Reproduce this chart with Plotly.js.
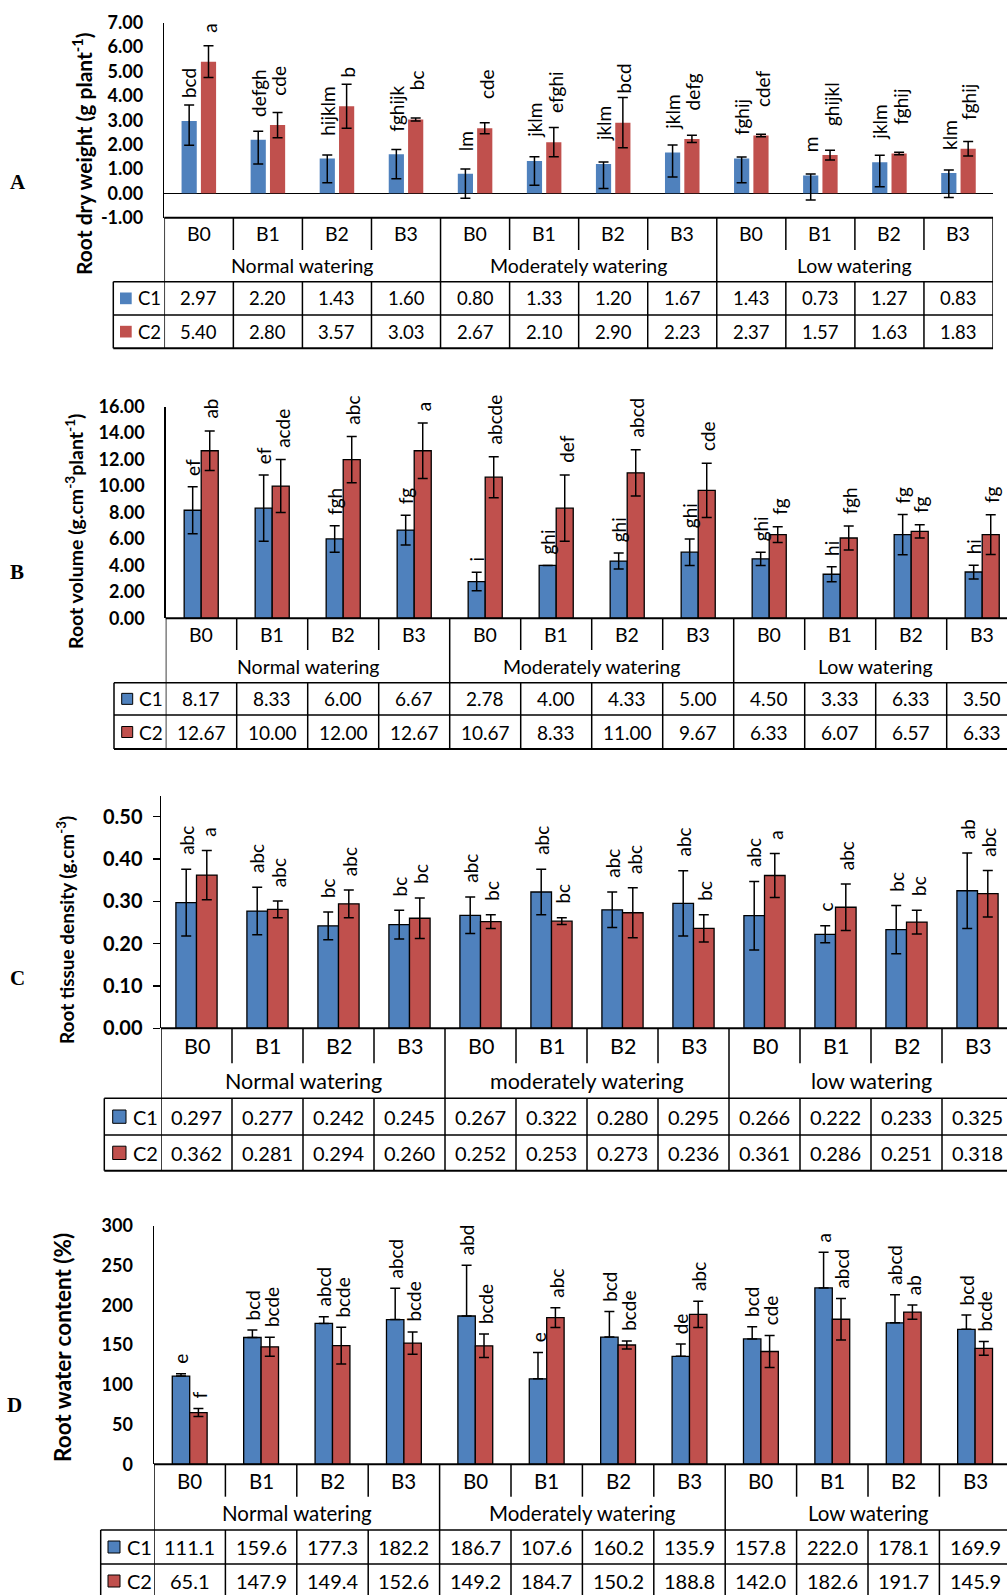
<!DOCTYPE html>
<html>
<head>
<meta charset="utf-8">
<script src="https://cdn.plot.ly/plotly-3.0.1.min.js"></script>
<style>
  html, body { margin: 0; padding: 0; overflow: hidden; background: #fff; }
  #chart { width: 1007px; height: 1595px; }
</style>
</head>
<body>
<div id="chart"></div>
<script>
// ---- categories ----
const treatments = ['B0', 'B1', 'B2', 'B3'];
const regimesUpper = ['Normal watering', 'Moderately watering', 'Low watering'];
const regimesLower = ['Normal watering', 'moderately watering', 'low watering'];
const seriesNames = ['C1', 'C2'];
const categoryLabels = [].concat(treatments, treatments, treatments);

// ---- A: root dry weight (g plant-1) ----
const dryC1 = [2.97, 2.20, 1.43, 1.60, 0.80, 1.33, 1.20, 1.67, 1.43, 0.73, 1.27, 0.83];
const dryC2 = [5.40, 2.80, 3.57, 3.03, 2.67, 2.10, 2.90, 2.23, 2.37, 1.57, 1.63, 1.83];
const dryC1ErrPlus = [0.65, 0.35, 0.14, 0.20, 0.20, 0.17, 0.08, 0.31, 0.06, 0.06, 0.29, 0.13];
const dryC1ErrMinus = [1.00, 1.00, 1.00, 1.00, 1.00, 1.00, 1.00, 1.00, 1.00, 1.00, 1.00, 1.00];
const dryC2Err = [0.65, 0.52, 0.90, 0.06, 0.23, 0.60, 1.03, 0.15, 0.05, 0.20, 0.05, 0.30];
const dryLetC1 = ['bcd', 'defgh', 'hijklm', 'fghijk', 'lm', 'jklm', 'jklm', 'jklm', 'fghij', 'm', 'jklm', 'klm'];
const dryLetC2 = ['a', 'cde', 'b', 'bc', 'cde', 'efghi', 'bcd', 'defg', 'cdef', 'ghijkl', 'fghij', 'fghij'];
const dryTickVals = [-1, 0, 1, 2, 3, 4, 5, 6, 7];
const dryTickText = ['-1.00', '0.00', '1.00', '2.00', '3.00', '4.00', '5.00', '6.00', '7.00'];

// ---- B: root volume ----
const volC1 = [8.17, 8.33, 6.00, 6.67, 2.78, 4.00, 4.33, 5.00, 4.50, 3.33, 6.33, 3.50];
const volC2 = [12.67, 10.00, 12.00, 12.67, 10.67, 8.33, 11.00, 9.67, 6.33, 6.07, 6.57, 6.33];
const volC1Err = [1.77, 2.50, 1.00, 1.13, 0.70, 0.00, 0.60, 1.00, 0.50, 0.57, 1.52, 0.52];
const volC2Err = [1.50, 2.00, 1.75, 2.10, 1.55, 2.50, 1.75, 2.05, 0.60, 0.90, 0.50, 1.50];
const volLetC1 = ['ef', 'ef', 'fgh', 'fg', 'i', 'ghi', 'ghi', 'ghi', 'ghi', 'hi', 'fg', 'hi'];
const volLetC2 = ['ab', 'acde', 'abc', 'a', 'abcde', 'def', 'abcd', 'cde', 'fg', 'fgh', 'fg', 'fg'];

// ---- C: root tissue density ----
const denC1 = [0.297, 0.277, 0.242, 0.245, 0.267, 0.322, 0.280, 0.295, 0.266, 0.222, 0.233, 0.325];
const denC2 = [0.362, 0.281, 0.294, 0.260, 0.252, 0.253, 0.273, 0.236, 0.361, 0.286, 0.251, 0.318];
const denC1Err = [0.079, 0.056, 0.033, 0.034, 0.043, 0.054, 0.042, 0.077, 0.081, 0.020, 0.057, 0.089];
const denC2Err = [0.058, 0.020, 0.033, 0.048, 0.016, 0.008, 0.059, 0.032, 0.052, 0.055, 0.028, 0.055];
const denLetC1 = ['abc', 'abc', 'bc', 'bc', 'abc', 'abc', 'abc', 'abc', 'abc', 'c', 'bc', 'ab'];
const denLetC2 = ['a', 'abc', 'abc', 'bc', 'bc', 'bc', 'abc', 'bc', 'a', 'abc', 'bc', 'abc'];

// ---- D: root water content (%) ----
const rwcC1 = [111.1, 159.6, 177.3, 182.2, 186.7, 107.6, 160.2, 135.9, 157.8, 222.0, 178.1, 169.9];
const rwcC2 = [65.1, 147.9, 149.4, 152.6, 149.2, 184.7, 150.2, 188.8, 142.0, 182.6, 191.7, 145.9];
const rwcC1ErrPlus = [3, 9.4, 8.5, 39.3, 64, 33.3, 32.3, 15.5, 15.4, 44.8, 35.4, 18];
const rwcC1ErrMinus = [0, 0, 0, 0, 0, 0, 0, 0, 0, 0, 0, 0];
const rwcC2Err = [5, 12, 23, 14, 14.7, 12.4, 5, 16.5, 20, 26, 9, 8.6];
const rwcLetC1 = ['e', 'bcd', 'abcd', 'abcd', 'abd', 'e', 'bcd', 'de', 'bcd', 'a', 'abcd', 'bcd'];
const rwcLetC2 = ['f', 'bcde', 'bcde', 'bcde', 'bcde', 'abc', 'bcde', 'abc', 'cde', 'abcd', 'ab', 'bcde'];

// ---- page geometry helpers (pixels -> paper fractions) ----
const W = 1007, H = 1595;
const py = y => 1 - y / H;
const pxp = x => x / W;
const COLORS = ['#4F81BD', '#C0504D'];
const FONT = 'Lato, "Open Sans", sans-serif';

const panels = [
  {
    letter: 'A', title: 'Root dry weight (g plant<sup>-1</sup>)', regimes: regimesUpper,
    values: [dryC1, dryC2], errPlus: [dryC1ErrPlus, dryC2Err], errMinus: [dryC1ErrMinus, dryC2Err],
    letters: [dryLetC1, dryLetC2], digits: 2,
    yRange: [-1, 7], tickvals: dryTickVals, ticktext: dryTickText, ticks: '', tickSize: 18,
    left: 164.3, catW: 69.06, top: 22.7, plotBottom: 217.7,
    rows: [217.7, 250, 281.7, 315, 348.3], legendLeft: 113.3,
    barW: 0.22, offs: [-0.25, 0.03], outline: 0, labelOnBar: true, labelShift: [21, 27],
    titleX: 82, titleY: 154, titleSize: 21, letterPos: [18, 182], square: [120, 131.7], legendText: 136,
    zeroline: true, headSize: 19.5, valueSize: 18.5
  },
  {
    letter: 'B', title: 'Root volume (g.cm<sup>-3</sup>plant<sup>-1</sup>)', regimes: regimesUpper,
    values: [volC1, volC2], errPlus: [volC1Err, volC2Err], errMinus: [volC1Err, volC2Err],
    letters: [volLetC1, volLetC2], digits: 2,
    yRange: [0, 16], dtick: 2, tickformat: '.2f', ticks: '', tickSize: 18,
    left: 165.7, catW: 71, top: 406.7, plotBottom: 618.3,
    rows: [618.3, 650, 682.7, 715, 749], legendLeft: 114,
    barW: 0.24, offs: [-0.24, 0], outline: 1.3, labelOnBar: false, labelShift: [9, 10],
    titleX: 75, titleY: 532, titleSize: 19.5, letterPos: [17, 572], square: [121.7, 132.7], legendText: 137,
    headSize: 19.5, valueSize: 19
  },
  {
    letter: 'C', title: 'Root tissue density (g.cm<sup>-3</sup>)', regimes: regimesLower,
    values: [denC1, denC2], errPlus: [denC1Err, denC2Err], errMinus: [denC1Err, denC2Err],
    letters: [denLetC1, denLetC2], digits: 3,
    yRange: [0, 0.55], dtick: 0.1, tickformat: '.2f', ticks: 'outside', tickSize: 20,
    left: 161, catW: 71, top: 795.5, plotBottom: 1028.3,
    rows: [1028.3, 1063.3, 1098.3, 1135, 1170.7], legendLeft: 104.3,
    barW: 0.29, offs: [-0.29, 0], outline: 1.3, labelOnBar: false, labelShift: [12, 12],
    titleX: 65, titleY: 930, titleSize: 19, letterPos: [17, 978], square: [112.7, 126], legendText: 131,
    headSize: 21.5, valueSize: 20
  },
  {
    letter: 'D', title: 'Root water content (%)', regimes: regimesUpper,
    values: [rwcC1, rwcC2], errPlus: [rwcC1ErrPlus, rwcC2Err], errMinus: [rwcC1ErrMinus, rwcC2Err],
    letters: [rwcLetC1, rwcLetC2], digits: 1,
    yRange: [0, 300], dtick: 50, tickformat: 'd', ticks: '', tickSize: 18,
    left: 154, catW: 71.4, top: 1226, plotBottom: 1464.3,
    rows: [1464.3, 1496.7, 1530, 1564, 1598], legendLeft: 100.7,
    barW: 0.244, offs: [-0.244, 0], outline: 1.3, labelOnBar: false, labelShift: [8, 8],
    titleX: 62, titleY: 1348, titleSize: 22.5, letterPos: [14, 1405], square: [108, 120], legendText: 125,
    headSize: 20.5, valueSize: 20
  }
];

const traces = [];
const shapes = [];
const annotations = [];
const layout = {
  width: W, height: H, margin: { l: 0, r: 0, t: 0, b: 0 },
  paper_bgcolor: '#fff', plot_bgcolor: 'rgba(0,0,0,0)',
  barmode: 'overlay', showlegend: false,
  font: { family: FONT, color: '#000', size: 18 }
};

const line = (xref, x0, x1, y0, y1, w) => ({
  type: 'line', xref: xref, yref: 'paper', x0: x0, x1: x1, y0: py(y0), y1: py(y1),
  line: { color: '#000', width: w }
});

panels.forEach((p, i) => {
  const n = i === 0 ? '' : String(i + 1);
  const xa = 'x' + n, ya = 'y' + n;
  const xs = categoryLabels.map((_, k) => k);
  const rightPx = p.left + 12 * p.catW;
  const visibleRight = Math.min(W, rightPx);

  // bars with error bars
  [0, 1].forEach(s => {
    traces.push({
      type: 'bar', name: seriesNames[s], x: xs, y: p.values[s], xaxis: xa, yaxis: ya,
      width: p.barW, offset: p.offs[s], hoverinfo: 'skip',
      marker: { color: COLORS[s], line: { color: '#000', width: p.outline } },
      error_y: {
        type: 'data', symmetric: false, array: p.errPlus[s], arrayminus: p.errMinus[s],
        color: '#000', thickness: 1.5, width: 5
      }
    });
  });

  layout['xaxis' + n] = {
    domain: [pxp(p.left), pxp(visibleRight)],
    range: [-0.5, -0.5 + (visibleRight - p.left) / p.catW],
    anchor: ya, showline: false, showticklabels: false, showgrid: false, zeroline: false,
    ticks: '', fixedrange: true
  };
  const yax = {
    domain: [py(p.plotBottom), py(p.top)], range: p.yRange, anchor: xa,
    showline: true, linecolor: '#000', linewidth: 1.5, showgrid: false,
    zeroline: !!p.zeroline, zerolinecolor: '#000', zerolinewidth: 1.3,
    ticks: p.ticks, ticklen: 7, tickwidth: 1.5, tickcolor: '#000',
    tickfont: { family: FONT, size: p.tickSize, weight: 'bold', color: '#000' },
    ticklabelstandoff: p.ticks === 'outside' ? 6 : 16,
    fixedrange: true
  };
  if (p.tickvals) { yax.tickmode = 'array'; yax.tickvals = p.tickvals; yax.ticktext = p.ticktext; }
  else { yax.dtick = p.dtick; yax.tick0 = 0; yax.tickformat = p.tickformat; }
  layout['yaxis' + n] = yax;

  // significance letters above bars
  [0, 1].forEach(s => {
    p.letters[s].forEach((t, k) => {
      const v = p.values[s][k];
      annotations.push({
        xref: xa, yref: ya, x: k + p.offs[s] + p.barW / 2,
        y: p.labelOnBar ? v : v + p.errPlus[s][k],
        yshift: p.labelShift[s], xshift: s === 1 ? 1 : 0,
        text: t, textangle: -90, xanchor: 'center', yanchor: 'bottom', showarrow: false,
        font: { family: FONT, size: 19, color: '#000' }
      });
    });
  });

  // data table under the plot
  const [r0, r1, r2, r3, r4] = p.rows;
  shapes.push(line('paper', pxp(p.left), pxp(rightPx), r0, r0, 2));
  shapes.push(line('paper', pxp(p.legendLeft), pxp(rightPx), r2, r2, 1.5));
  shapes.push(line('paper', pxp(p.legendLeft), pxp(rightPx), r3, r3, 1.5));
  shapes.push(line('paper', pxp(p.legendLeft), pxp(rightPx), r4, r4, 2));
  shapes.push(line('paper', pxp(p.legendLeft), pxp(p.legendLeft), r2, r4, 1.5));
  for (let k = 0; k <= 12; k++) {
    const xv = k - 0.5;
    if (k === 0 || k === 12 || k % 4 === 0) {
      shapes.push(line(xa, xv, xv, r0, r4, 1.5));
    } else {
      shapes.push(line(xa, xv, xv, r0, r1, 1.5));
      shapes.push(line(xa, xv, xv, r2, r4, 1.5));
    }
  }
  categoryLabels.forEach((lab, k) => {
    annotations.push({ xref: xa, yref: 'paper', x: k, y: py((r0 + r1) / 2), text: lab,
      showarrow: false, xanchor: 'center', yanchor: 'middle', font: { family: FONT, size: p.headSize } });
  });
  p.regimes.forEach((g, k) => {
    annotations.push({ xref: xa, yref: 'paper', x: 4 * k + 1.5, y: py((r1 + r2) / 2), text: g,
      showarrow: false, xanchor: 'center', yanchor: 'middle', font: { family: FONT, size: p.headSize } });
  });
  [0, 1].forEach(s => {
    const rowTop = s === 0 ? r2 : r3, rowBot = s === 0 ? r3 : r4;
    const mid = (rowTop + rowBot) / 2;
    p.values[s].forEach((v, k) => {
      annotations.push({ xref: xa, yref: 'paper', x: k, y: py(mid), text: v.toFixed(p.digits),
        showarrow: false, xanchor: 'center', yanchor: 'middle', font: { family: FONT, size: p.valueSize } });
    });
    const sq = p.square[1] - p.square[0];
    shapes.push({ type: 'rect', xref: 'paper', yref: 'paper',
      x0: pxp(p.square[0]), x1: pxp(p.square[1]), y0: py(mid + sq / 2), y1: py(mid - sq / 2),
      fillcolor: COLORS[s], line: { color: p.outline ? '#000' : COLORS[s], width: p.outline ? 1 : 0 } });
    annotations.push({ xref: 'paper', yref: 'paper', x: pxp(p.legendText), y: py(mid), text: seriesNames[s],
      showarrow: false, xanchor: 'left', yanchor: 'middle', font: { family: FONT, size: p.valueSize } });
  });

  // axis title and panel letter
  annotations.push({ xref: 'paper', yref: 'paper', x: pxp(p.titleX), y: py(p.titleY), text: p.title,
    textangle: -90, showarrow: false, xanchor: 'center', yanchor: 'middle',
    font: { family: FONT, size: p.titleSize, weight: 'bold', color: '#000' } });
  annotations.push({ xref: 'paper', yref: 'paper', x: pxp(p.letterPos[0]), y: py(p.letterPos[1]), text: p.letter,
    showarrow: false, xanchor: 'center', yanchor: 'middle',
    font: { family: '"Liberation Serif", "DejaVu Serif", serif', size: 21, weight: 'bold', color: '#000' } });
});

layout.shapes = shapes;
layout.annotations = annotations;

Plotly.newPlot('chart', traces, layout, { staticPlot: true, displayModeBar: false });
</script>
</body>
</html>
